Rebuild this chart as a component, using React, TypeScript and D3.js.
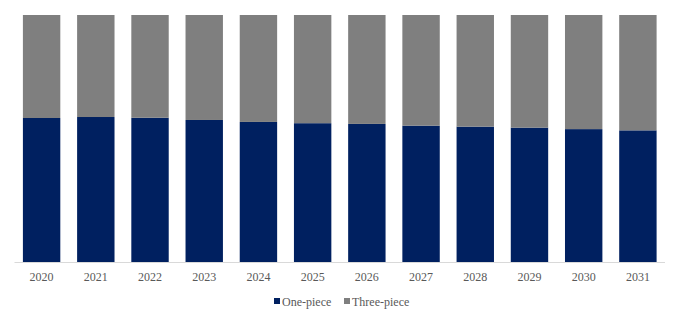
import React from "react";
import * as d3 from "d3";

const years = ["2020","2021","2022","2023","2024","2025","2026","2027","2028","2029","2030","2031"];
const onePiece = [58.3, 58.7, 58.4, 57.5, 56.7, 56.2, 55.9, 55.2, 54.8, 54.4, 53.8, 53.3];
const threePiece = onePiece.map((v) => +(100 - v).toFixed(1));
const seriesNames = ["One-piece", "Three-piece"];
const colors = ["#002060", "#7f7f7f"];

const W = 681, H = 322;
const left = 14.5, right = 665, top = 15, bottom = 262;

export default function App() {
  const x = d3.scaleBand<string>().domain(years).range([left, right]).paddingInner(0.31).paddingOuter(0.155);
  const y = d3.scaleLinear().domain([0, 100]).range([bottom, top]);
  const rows = years.map((yr, i) => ({ year: yr, "One-piece": onePiece[i], "Three-piece": threePiece[i] }));
  const stack = d3.stack<any>().keys(seriesNames)(rows);
  const font = "Liberation Serif, Times New Roman, serif";
  return (
    <svg width={W} height={H} style={{ position: "absolute", left: 0, top: 0, background: "#fff" }}>
      {stack.map((s, si) => (
        <g key={s.key} fill={colors[si]}>
          {s.map((d, i) => (
            <rect key={i} x={x(years[i])} width={x.bandwidth()} y={y(d[1])} height={y(d[0]) - y(d[1])} />
          ))}
        </g>
      ))}
      <line x1={left} x2={right} y1={bottom + 0.5} y2={bottom + 0.5} stroke="#d9d9d9" strokeWidth={1} />
      {years.map((yr) => (
        <text key={yr} x={(x(yr) as number) + x.bandwidth() / 2} y={281} textAnchor="middle" style={{ fontFamily: font, fontSize: 12 }} fill="#595959">{yr}</text>
      ))}
      <g style={{ fontFamily: font, fontSize: 12 }} fill="#595959">
        <rect x={274} y={298} width={6} height={6} fill={colors[0]} />
        <text x={282} y={306}>{seriesNames[0]}</text>
        <rect x={344} y={298} width={6} height={6} fill={colors[1]} />
        <text x={352} y={306}>{seriesNames[1]}</text>
      </g>
    </svg>
  );
}
